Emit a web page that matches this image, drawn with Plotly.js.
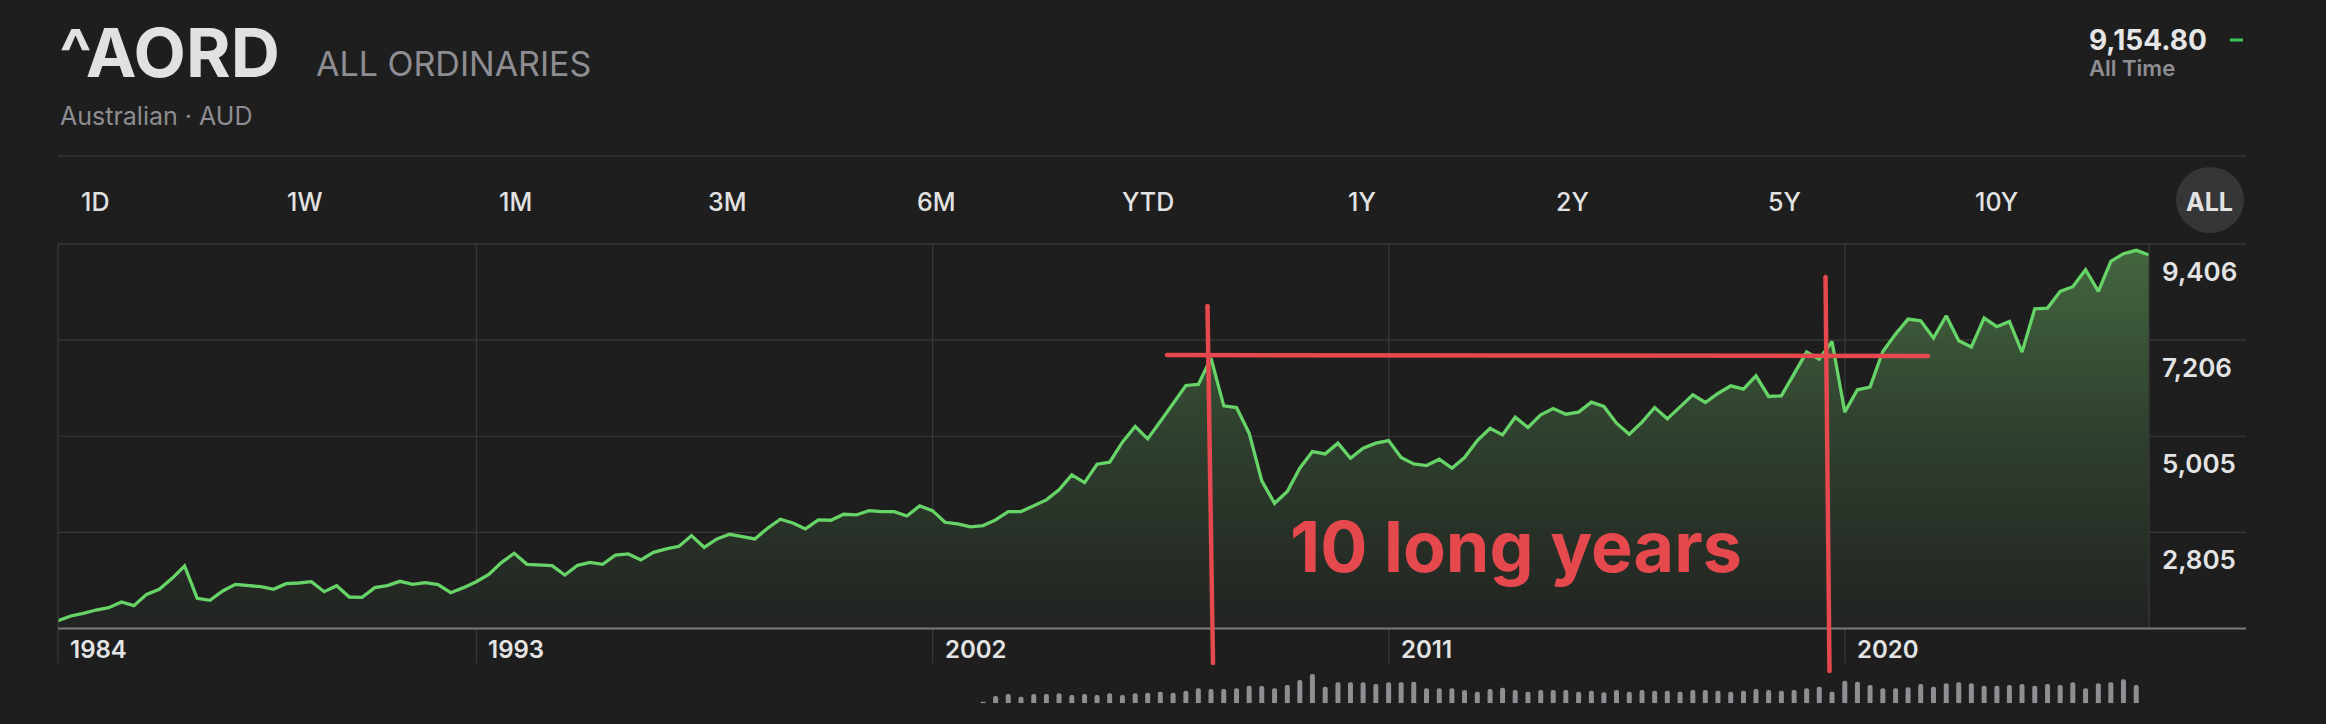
<!DOCTYPE html>
<html>
<head>
<meta charset="utf-8">
<script src="https://cdn.plot.ly/plotly-3.0.1.min.js"></script>
<style>
html,body{margin:0;padding:0;background:#1e1e1e;overflow:hidden;}
#chart{width:2326px;height:724px;}
</style>
</head>
<body>
<div id="chart"></div>
<script>
// ---------------- DATA ----------------
const ticker = '^AORD';
const indexName = 'ALL ORDINARIES';
const subtitle = 'Australian · AUD';
const lastPrice = '9,154.80';
const priceCaption = 'All Time';
const noteText = '10 long years';
const rangeTabs = ['1D','1W','1M','3M','6M','YTD','1Y','2Y','5Y','10Y','ALL'];
const activeTab = 'ALL';

const dates = [
'1984-09-30','1984-12-31',
'1985-03-31','1985-06-30','1985-09-30','1985-12-31',
'1986-03-31','1986-06-30','1986-09-30','1986-12-31',
'1987-03-31','1987-06-30','1987-09-30','1987-12-31',
'1988-03-31','1988-06-30','1988-09-30','1988-12-31',
'1989-03-31','1989-06-30','1989-09-30','1989-12-31',
'1990-03-31','1990-06-30','1990-09-30','1990-12-31',
'1991-03-31','1991-06-30','1991-09-30','1991-12-31',
'1992-03-31','1992-06-30','1992-09-30','1992-12-31',
'1993-03-31','1993-06-30','1993-09-30','1993-12-31',
'1994-03-31','1994-06-30','1994-09-30','1994-12-31',
'1995-03-31','1995-06-30','1995-09-30','1995-12-31',
'1996-03-31','1996-06-30','1996-09-30','1996-12-31',
'1997-03-31','1997-06-30','1997-09-30','1997-12-31',
'1998-03-31','1998-06-30','1998-09-30','1998-12-31',
'1999-03-31','1999-06-30','1999-09-30','1999-12-31',
'2000-03-31','2000-06-30','2000-09-30','2000-12-31',
'2001-03-31','2001-06-30','2001-09-30','2001-12-31',
'2002-03-31','2002-06-30','2002-09-30','2002-12-31',
'2003-03-31','2003-06-30','2003-09-30','2003-12-31',
'2004-03-31','2004-06-30','2004-09-30','2004-12-31',
'2005-03-31','2005-06-30','2005-09-30','2005-12-31',
'2006-03-31','2006-06-30','2006-09-30','2006-12-31',
'2007-03-31','2007-06-30','2007-09-30','2007-12-31',
'2008-03-31','2008-06-30','2008-09-30','2008-12-31',
'2009-03-31','2009-06-30','2009-09-30','2009-12-31',
'2010-03-31','2010-06-30','2010-09-30','2010-12-31',
'2011-03-31','2011-06-30','2011-09-30','2011-12-31',
'2012-03-31','2012-06-30','2012-09-30','2012-12-31',
'2013-03-31','2013-06-30','2013-09-30','2013-12-31',
'2014-03-31','2014-06-30','2014-09-30','2014-12-31',
'2015-03-31','2015-06-30','2015-09-30','2015-12-31',
'2016-03-31','2016-06-30','2016-09-30','2016-12-31',
'2017-03-31','2017-06-30','2017-09-30','2017-12-31',
'2018-03-31','2018-06-30','2018-09-30','2018-12-31',
'2019-03-31','2019-06-30','2019-09-30','2019-12-31',
'2020-03-31','2020-06-30','2020-09-30','2020-12-31',
'2021-03-31','2021-06-30','2021-09-30','2021-12-31',
'2022-03-31','2022-06-30','2022-09-30','2022-12-31',
'2023-03-31','2023-06-30','2023-09-30','2023-12-31',
'2024-03-31','2024-06-30','2024-09-30','2024-12-31',
'2025-03-31','2025-06-30','2025-09-30','2025-12-31'
];

const closeValues = [
782,889,950,1026,1079,1209,1125,1385,1500,1752,
2034,1293,1248,1461,1614,1591,1561,1500,1629,1645,
1675,1446,1584,1324,1316,1538,1584,1683,1614,1652,
1607,1423,1538,1675,1843,2111,2325,2073,2057,2042,
1828,2050,2118,2073,2286,2309,2172,2348,2424,2485,
2730,2462,2653,2760,2707,2653,2898,3104,3020,2882,
3089,3081,3218,3203,3302,3280,3280,3180,3409,3302,
3035,2997,2928,2959,3089,3280,3280,3409,3547,3776,
4120,3944,4364,4410,4868,5227,4945,5342,5762,6167,
6190,6793,5701,5663,5075,3982,3470,3738,4273,4655,
4601,4846,4502,4731,4846,4907,4517,4372,4334,4479,
4273,4517,4907,5189,5036,5441,5205,5495,5640,5510,
5556,5785,5686,5304,5052,5327,5663,5403,5678,5953,
5777,5984,6159,6083,6389,5915,5930,6427,6931,6771,
7175,5556,6068,6129,6946,7343,7687,7649,7252,7764,
7191,7046,7710,7512,7634,6931,7924,7939,8321,8428,
8818,8321,9009,9184,9261,9154.8
];

// relative volume (quarters from mid-2002 to latest)
const volumeValues = [
5,22,28,20,28,28,30,25,28,25,
30,25,30,32,35,32,38,45,43,43,
45,53,52,45,55,70,88,50,63,63,
63,58,63,63,65,45,45,45,40,35,
43,47,40,35,40,40,40,35,38,33,
40,35,40,38,38,35,40,40,38,35,
38,43,40,38,40,45,50,35,68,65,
55,45,45,48,58,50,60,63,60,53,
53,55,58,53,58,55,63,45,60,63,
72,55
];
const volumeDates = dates.slice(73, 73 + volumeValues.length);

const yTickValues = [2805, 5005, 7206, 9406];
const yTickLabels = ['2,805', '5,005', '7,206', '9,406'];
const xTickDates = ['1984-09-30', '1993-01-01', '2002-01-01', '2011-01-01', '2020-01-01'];
const xTickLabels = ['1984', '1993', '2002', '2011', '2020'];

// ---------------- STYLE / LAYOUT ----------------
const W = 2326, H = 724;
const L = 58, R = 2149, T = 244, B = 705;     // plot area in px
const AXIS_Y = 628.5, VOL_TOP = 674, VOL_BOT = 703.3;
const FONT = 'Inter, "Noto Sans", sans-serif';
const BG = '#1e1e1e';
const GRID = '#3a3a3a';
const RED = '#e5484d';
const X = px => (px - L) / (R - L);
const Y = py => (B - py) / (B - T);
const mainDom0 = Y(AXIS_Y);

const shapes = [];
const ann = [];
function pline(x0, y0, x1, y1, color, width, layer) {
  shapes.push({type:'line', xref:'paper', yref:'paper', x0:X(x0), y0:Y(y0), x1:X(x1), y1:Y(y1),
    line:{color, width}, layer: layer || 'above'});
}
function pdot(cx, cy, r, color) {
  shapes.push({type:'circle', xref:'paper', yref:'paper', x0:X(cx - r), x1:X(cx + r), y0:Y(cy + r), y1:Y(cy - r),
    fillcolor:color, line:{width:0}, layer:'above'});
}
function ptext(text, px, py, size, color, weight, anchor) {
  ann.push({text, xref:'paper', yref:'paper', x:X(px), y:Y(py), xanchor:anchor || 'left', yanchor:'middle',
    showarrow:false, font:{family:FONT, size, color, weight: weight || 400}});
}

// header
ptext(ticker, 57, 52, 68, '#e1e1e1', 700);
ptext(indexName, 314, 63, 34, '#8d8d92', 400);
ptext(subtitle, 58, 116, 25, '#8d8d92', 400);
ptext(lastPrice, 2087, 39.5, 28, '#e6e6e6', 700);
ptext(priceCaption, 2087, 68, 22, '#8d8d92', 600);
pline(2230, 40, 2243, 40, '#34c759', 3);
pline(L, 156, 2246, 156, '#333335', 1.5);

// range tabs
const tabCenters = [95, 304.5, 515, 727, 936.5, 1148, 1362, 1572, 1784, 1996, 2210];
shapes.push({type:'circle', xref:'paper', yref:'paper', x0:X(2176), x1:X(2244), y0:Y(233), y1:Y(167),
  fillcolor:'#363638', line:{width:0}, layer:'below'});
rangeTabs.forEach((t, i) => {
  ptext(t, tabCenters[i], 201.5, 25, '#e2e2e2', t === activeTab ? 700 : 500, 'center');
});

// frame lines
pline(L, T, 2246, T, '#38383a', 1.5);
pline(L, T, L, 663, GRID, 1.2);
pline(R, T, R, AXIS_Y, GRID, 1.2);
// horizontal gridlines (extend under labels)
yTickValues.forEach(v => {
  if (v >= 9406) return;
  shapes.push({type:'line', xref:'paper', yref:'y', x0:0, x1:X(2246), y0:v, y1:v,
    line:{color:GRID, width:1.2}, layer:'below'});
});
// vertical gridlines
xTickDates.slice(1).forEach(d => {
  shapes.push({type:'line', xref:'x', yref:'paper', x0:d, x1:d, y0:Y(663), y1:1,
    line:{color:GRID, width:1.2}, layer:'below'});
});
// axis baseline
pline(L, AXIS_Y, 2246, AXIS_Y, '#7b7b7d', 2);

// axis labels
yTickValues.forEach((v, i) => {
  ann.push({text:yTickLabels[i], xref:'paper', yref:'y', x:X(2160), y:v, yshift:-27.5,
    xanchor:'left', yanchor:'middle', showarrow:false,
    font:{family:FONT, size:26, color:'#e4e4e4', weight:600}});
});
xTickDates.forEach((d, i) => {
  ann.push({text:xTickLabels[i], xref:'x', yref:'paper', x:d, y:Y(649), xshift:10,
    xanchor:'left', yanchor:'middle', showarrow:false,
    font:{family:FONT, size:24, color:'#e4e4e4', weight:600}});
});

// red hand-drawn annotation (round ends)
const redLines = [[1207.5, 306, 1213, 663], [1167, 355, 1928, 356], [1825.5, 277, 1829.5, 671]];
redLines.forEach(s => {
  pline(s[0], s[1], s[2], s[3], RED, 4.5);
  pdot(s[0], s[1], 2.25, RED);
  pdot(s[2], s[3], 2.25, RED);
});
ptext(noteText, 1516, 546, 70, RED, 700, 'center');

const traces = [
  {
    type:'scatter', mode:'lines', x:dates, y:closeValues, xaxis:'x', yaxis:'y',
    line:{color:'#66d466', width:3.3, shape:'linear'},
    fill:'tozeroy',
    fillgradient:{type:'vertical', start:603, stop:9406,
      colorscale:[[0,'#212321'],[0.5,'#2f3f2e'],[1,'#44673f']]},
    hoverinfo:'skip'
  },
  {
    type:'bar', x:volumeDates, y:volumeValues, xaxis:'x', yaxis:'y2',
    marker:{color:'#8e8e93', line:{width:0}}, hoverinfo:'skip'
  }
];

const layout = {
  width:W, height:H,
  paper_bgcolor:BG, plot_bgcolor:BG,
  margin:{l:L, r:W - R, t:T, b:H - B, pad:0},
  showlegend:false,
  bargap:0.6,
  barcornerradius:3,
  xaxis:{type:'date', range:[dates[0], dates[dates.length - 1]], anchor:'y',
    showgrid:false, zeroline:false, showline:false, showticklabels:false, ticks:''},
  yaxis:{domain:[mainDom0, 1], range:[603, 9406], tickvals:yTickValues,
    showgrid:false, zeroline:false, showline:false, showticklabels:false, ticks:''},
  yaxis2:{domain:[Y(VOL_BOT), Y(VOL_TOP)], range:[0, 88], anchor:'x',
    showgrid:false, zeroline:false, showline:false, showticklabels:false, ticks:''},
  shapes, annotations:ann
};

Plotly.newPlot('chart', traces, layout, {staticPlot:true, displayModeBar:false});
</script>
</body>
</html>
